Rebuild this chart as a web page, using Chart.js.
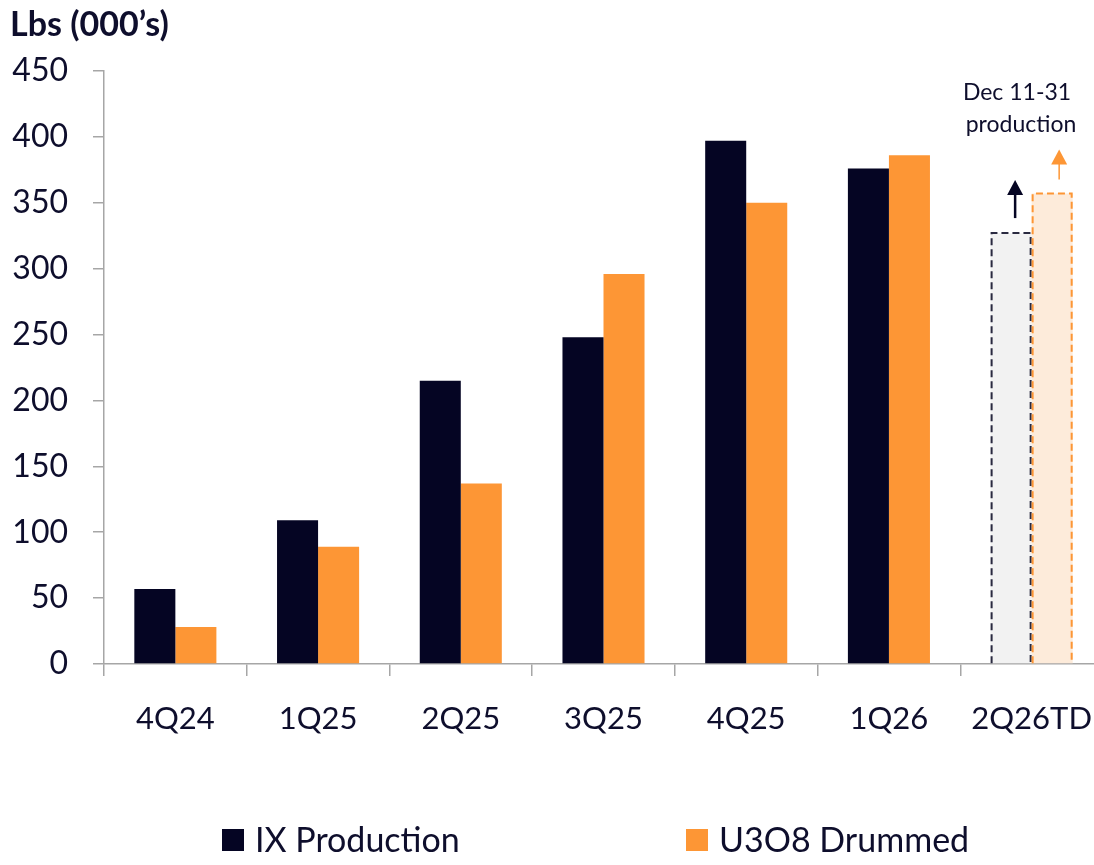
<!DOCTYPE html>
<html>
<head>
<meta charset="utf-8">
<script src="https://cdn.jsdelivr.net/npm/chart.js@4"></script>
<style>
  html, body { margin: 0; padding: 0; background: #fff; overflow: hidden; }
  #wrap { width: 1103px; height: 865px; }
</style>
</head>
<body>
<div id="wrap"><canvas id="myChart"></canvas></div>
<script>
const quarters = ['4Q24', '1Q25', '2Q25', '3Q25', '4Q25', '1Q26', '2Q26TD']
const ixProduction = [57, 109, 215, 248, 397, 376, 327]
const u3o8Drummed = [28, 89, 137, 296, 350, 386, 357]
const yTicks = [0, 50, 100, 150, 200, 250, 300, 350, 400, 450]

const navy = '#050523'
const orange = '#FD9635'
const textColor = '#0E0E2C'
const axisColor = '#A6A6A6'
const fontName = 'Lato, "Open Sans", sans-serif'

// last quarter is "to date": lighter fill, dashed outline drawn by plugin
const lastIdx = quarters.length - 1
const ixFill = quarters.map((q, i) => i == lastIdx ? '#F2F2F2' : navy)
const uFill = quarters.map((q, i) => i == lastIdx ? '#FDEBDA' : orange)

const extras = {
    id: 'extras',
    afterDatasetsDraw(chart) {
        const c = chart.ctx
        const ixBar = chart.getDatasetMeta(0).data[lastIdx]
        const uBar = chart.getDatasetMeta(1).data[lastIdx]

        // dashed outlines
        c.save()
        c.setLineDash([7, 4])
        c.lineWidth = 2
        ;[[ixBar, '#2A2A40'], [uBar, orange]].forEach(([b, col]) => {
            const w = b.width
            c.strokeStyle = col
            c.beginPath()
            c.moveTo(b.x - w / 2 + 1, b.base)
            c.lineTo(b.x - w / 2 + 1, b.y)
            c.lineTo(b.x + w / 2 - 1, b.y)
            c.lineTo(b.x + w / 2 - 1, b.base)
            c.stroke()
        })
        c.restore()

        // arrows above the last bars
        const arrow = (x, yFrom, yTo, col, lw) => {
            c.save()
            c.strokeStyle = col
            c.fillStyle = col
            c.lineWidth = lw
            c.beginPath()
            c.moveTo(x, yFrom)
            c.lineTo(x, yTo + 12)
            c.stroke()
            c.beginPath()
            c.moveTo(x - 8, yTo + 15)
            c.lineTo(x + 8, yTo + 15)
            c.lineTo(x, yTo)
            c.closePath()
            c.fill()
            c.restore()
        }
        arrow(ixBar.x + 4, ixBar.y - 15, ixBar.y - 53, navy, 2.5)
        arrow(uBar.x + 7, uBar.y - 14, uBar.y - 44, orange, 1.5)

        // annotation
        c.save()
        c.fillStyle = textColor
        c.font = '23px ' + fontName
        c.textAlign = 'center'
        c.textBaseline = 'middle'
        c.fillText('Dec 11-31', 1017, 93)
        c.fillText('production', 1021, 125)
        c.restore()

        // title
        c.save()
        c.fillStyle = textColor
        c.font = 'bold 34px ' + fontName
        c.textBaseline = 'middle'
        c.fillText('Lbs (000\u2019s)', 10, 25)
        c.restore()

        // legend
        c.save()
        c.font = '34px ' + fontName
        c.textBaseline = 'middle'
        const items = [[222, chart.data.datasets[0]], [686, chart.data.datasets[1]]]
        items.forEach(([x, ds]) => {
            c.fillStyle = ds.legendColor
            c.fillRect(x, 829, 22, 22)
            c.fillStyle = textColor
            c.fillText(ds.label, x + 33, 841)
        })
        c.restore()
    }
}

new Chart(document.getElementById('myChart'), {
    type: 'bar',
    data: {
        labels: quarters,
        datasets: [{
            label: 'IX Production',
            data: ixProduction,
            backgroundColor: ixFill,
            legendColor: navy,
            borderWidth: 0
        }, {
            label: 'U3O8 Drummed',
            data: u3o8Drummed,
            backgroundColor: uFill,
            legendColor: orange,
            borderWidth: 0
        }]
    },
    options: {
        responsive: true,
        maintainAspectRatio: false,
        animation: false,
        datasets: {
            bar: { categoryPercentage: 0.575, barPercentage: 1 }
        },
        layout: {
            padding: { top: 71, left: 10, right: 0, bottom: 131 }
        },
        plugins: {
            legend: { display: false },
            tooltip: { enabled: false }
        },
        scales: {
            x: {
                grid: {
                    offset: true,
                    drawOnChartArea: false,
                    tickLength: 12,
                    color: axisColor,
                    lineWidth: 1.5
                },
                border: { color: axisColor, width: 1.5 },
                ticks: {
                    color: textColor,
                    padding: 24,
                    maxRotation: 0,
                    font: { family: fontName, size: 31 }
                },
                afterFit(scale) {
                    scale.height = 70
                    scale.paddingLeft = 0
                    scale.paddingRight = 0
                }
            },
            y: {
                min: 0,
                max: 450,
                afterBuildTicks(scale) { scale.ticks = yTicks.map(v => ({ value: v })) },
                grid: {
                    drawOnChartArea: false,
                    tickLength: 11,
                    color: axisColor,
                    lineWidth: 1.5
                },
                border: { color: axisColor, width: 1.5 },
                ticks: {
                    color: textColor,
                    padding: 25,
                    font: { family: fontName, size: 32 }
                },
                afterFit(scale) { scale.width = 94 }
            }
        }
    },
    plugins: [extras]
});
</script>
</body>
</html>
